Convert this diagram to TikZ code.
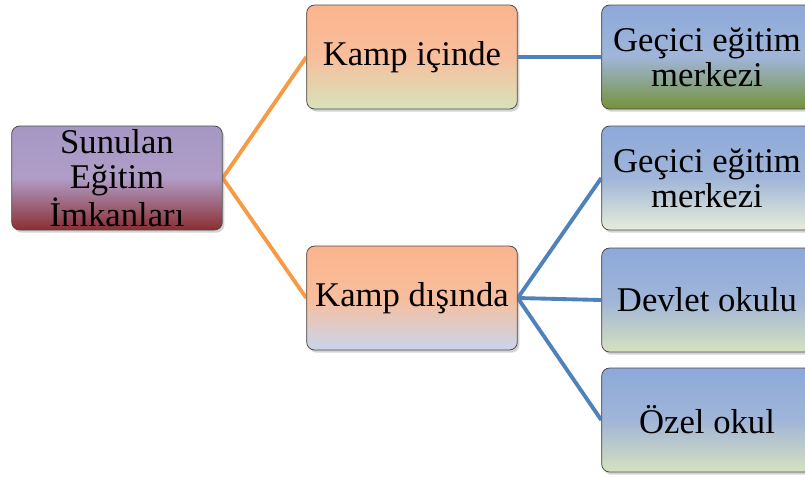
\documentclass[tikz,border=0pt]{standalone}
\usepackage{fontspec}
\setmainfont{Liberation Serif}
\usetikzlibrary{shadows,backgrounds}

\definecolor{rootTop}{HTML}{A597C4}
\definecolor{rootMid}{HTML}{B09DC7}
\definecolor{rootBottom}{HTML}{8A2E32}
\definecolor{campTop}{HTML}{FBB48D}
\definecolor{campMid}{HTML}{F8BE9C}
\definecolor{campGreen}{HTML}{D6E3BC}
\definecolor{campBlue}{HTML}{C8D5EC}
\definecolor{schoolTop}{HTML}{8DA9DA}
\definecolor{schoolMid}{HTML}{A0B5D8}
\definecolor{schoolGreen}{HTML}{74923A}
\definecolor{schoolPale}{HTML}{E6EDDA}
\definecolor{schoolLight}{HTML}{D6E1BE}
\definecolor{linkOrange}{HTML}{F79A46}
\definecolor{linkBlue}{HTML}{4F81BD}

\begin{document}
\begin{tikzpicture}[x=0.75pt,y=-0.75pt,
    box/.style={draw=gray!60!black, line width=0.6pt, rounded corners=6pt,
        minimum width=158pt, minimum height=78pt, align=center, inner sep=2pt,
        font=\fontsize{26}{26.5}\selectfont,
        drop shadow={shadow xshift=1.5pt, shadow yshift=-2pt, opacity=0.35}},
    rootbox/.style={box, top color=rootTop, bottom color=rootBottom, middle color=rootMid},
    campbox/.style={box, top color=campTop, bottom color=#1, middle color=campMid},
    schoolbox/.style={box, top color=schoolTop, bottom color=#1, middle color=schoolMid},
    link/.style={line width=2.9pt, #1}]
    \clip (0,0) rectangle (805,476);

    % Root
    \node[rootbox] (offer) at (117,178) {Sunulan\\Eğitim\\İmkanları};

    % Second level
    \node[campbox=campGreen] (inside) at (412,57) {Kamp içinde};
    \node[campbox=campBlue] (outside) at (412,298) {Kamp dışında};

    % Third level
    \node[schoolbox=schoolGreen] (tempA) at (707,57) {Geçici eğitim\\merkezi};
    \node[schoolbox=schoolPale] (tempB) at (707,178) {Geçici eğitim\\merkezi};
    \node[schoolbox=schoolLight] (state) at (707,300) {Devlet okulu};
    \node[schoolbox=schoolLight] (private) at (707,420) {Özel okul};

    % Connectors
    \begin{pgfonlayer}{background}
        \draw[link=linkOrange] (inside.west) -- (offer.east) -- (outside.west);
        \draw[link=linkBlue] (inside.east) -- (tempA.west);
        \draw[link=linkBlue] (outside.east) -- (tempB.west);
        \draw[link=linkBlue] (outside.east) -- (state.west);
        \draw[link=linkBlue] (outside.east) -- (private.west);
    \end{pgfonlayer}
\end{tikzpicture}
\end{document}
